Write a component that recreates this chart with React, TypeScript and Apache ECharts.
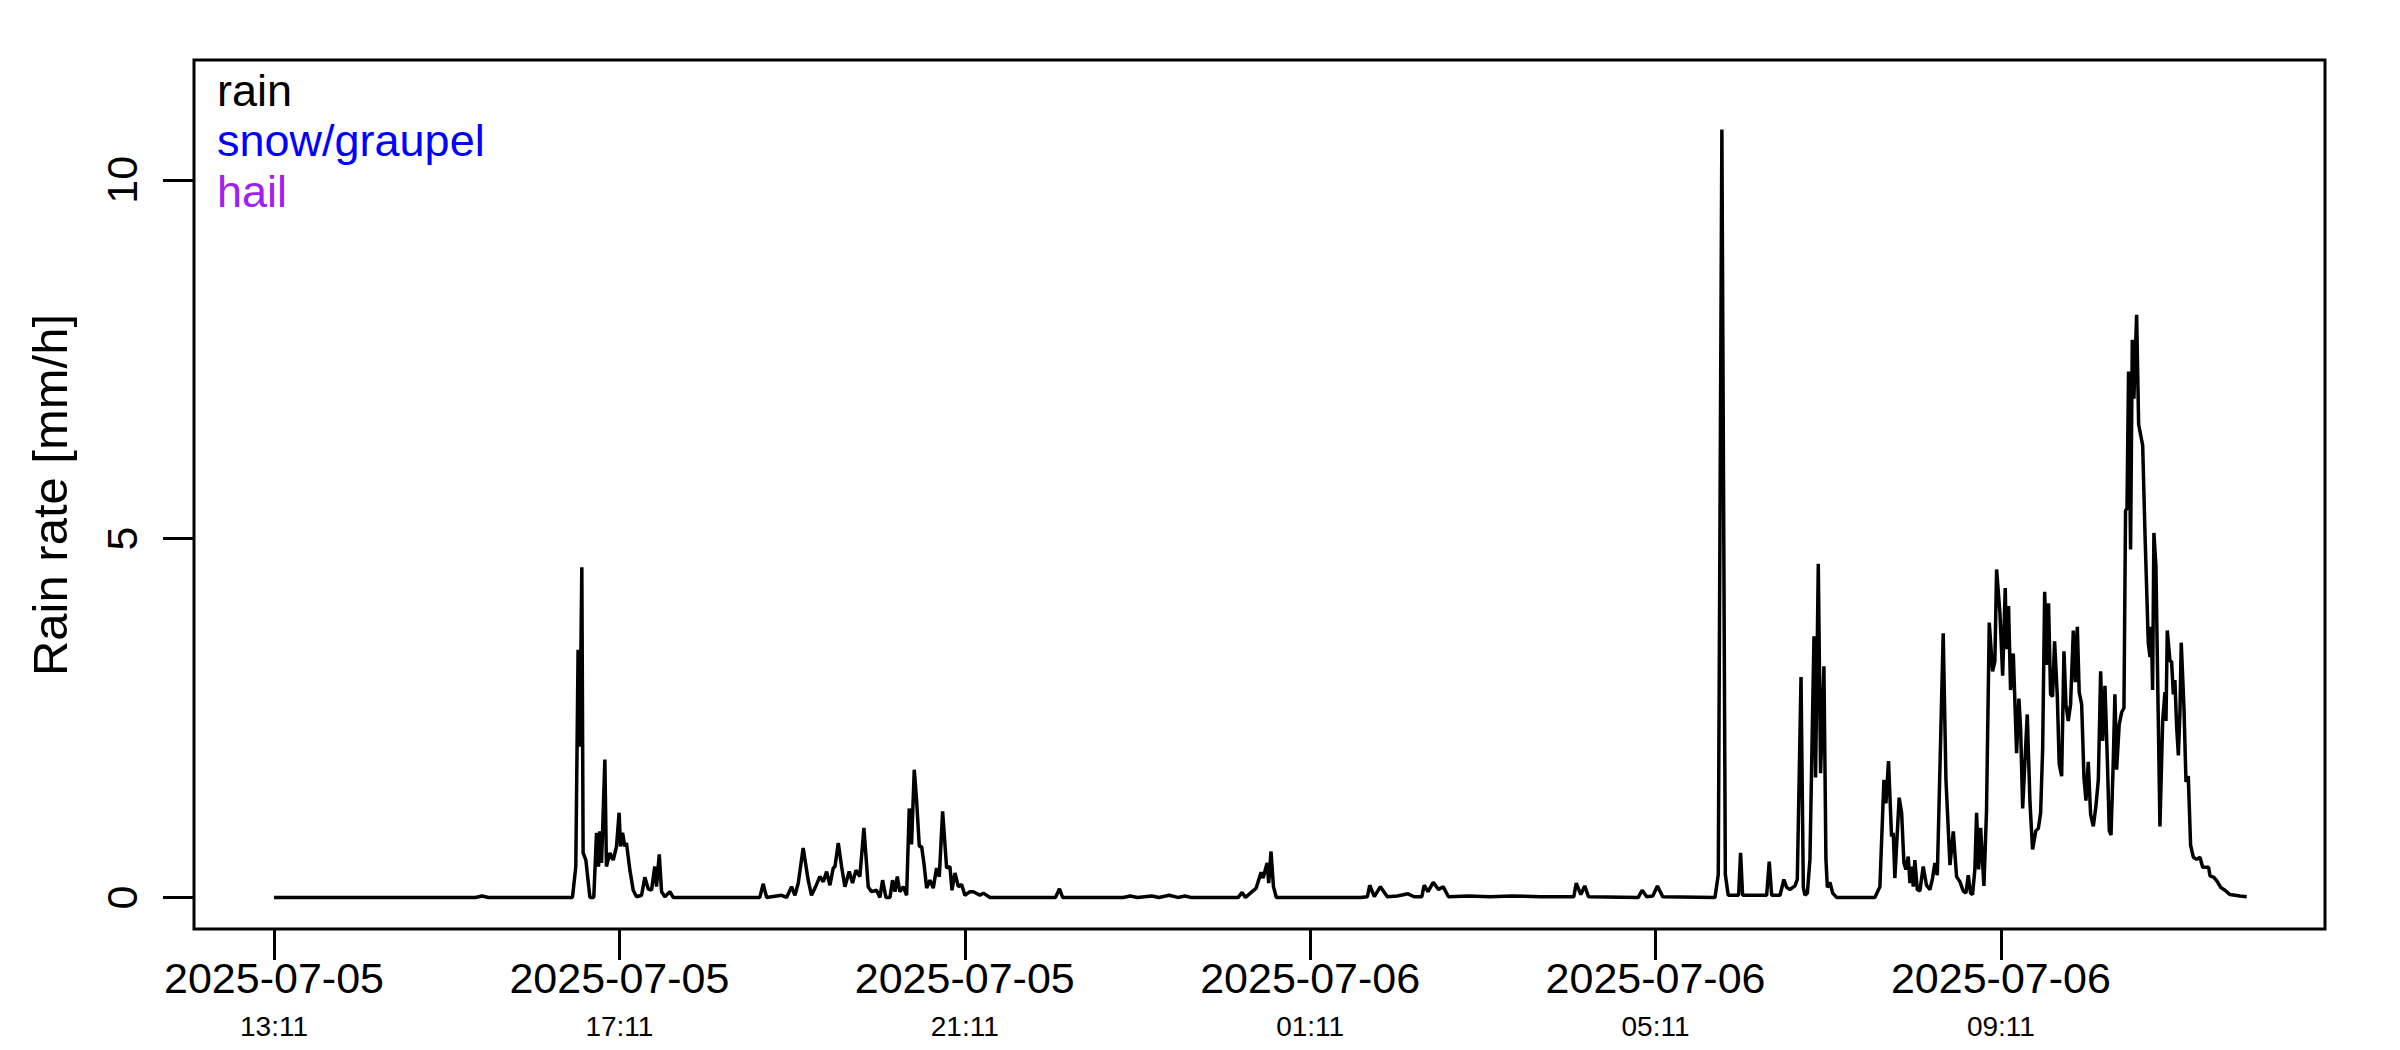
import React, { useEffect, useRef } from 'react';
import * as echarts from 'echarts';

// x values: minutes after 2025-07-05 13:11
const tickMinutes = [0, 240, 480, 720, 960, 1200];
const tickDates = ['2025-07-05', '2025-07-05', '2025-07-05', '2025-07-06', '2025-07-06', '2025-07-06'];
const tickTimes = ['13:11', '17:11', '21:11', '01:11', '05:11', '09:11'];
const yTicks = [0, 5, 10];
const legendLabels = ['rain', 'snow/graupel', 'hail'];
const legendColors = ['#000000', '#0000FF', '#A020F0'];

const quietStart: [number, number][] = [
  [0, 0], [140, 0], [144.5, 0.02], [149, 0],
];
const storm1: [number, number][] = [
  [207.4, 0], [209.7, 0.43], [211.3, 3.45], [212.5, 2.1], [213.9, 4.6], [214.8, 0.62], [216.7, 0.52],
  [219.5, 0], [222.2, 0], [224.1, 0.9], [225.5, 0.43], [226.4, 0.92], [227.6, 0.48], [229.9, 1.92],
  [231, 0.43], [233.4, 0.62], [235.7, 0.52], [238, 0.71], [239.8, 1.18], [240.8, 0.71], [242.2, 0.9],
  [243.8, 0.71], [244.9, 0.76], [247.3, 0.38], [249.6, 0.1], [251.9, 0.01], [255.4, 0.03], [257.7, 0.28],
  [260, 0.12], [262.3, 0.1], [264.6, 0.43], [265.8, 0.15], [267.7, 0.6], [269.3, 0.08], [271.6, 0.01],
  [275.1, 0.08], [277.4, 0],
];
const storm2: [number, number][] = [
  [337.6, 0], [339.9, 0.19], [342.3, 0], [352.7, 0.03], [356.2, 0], [359.6, 0.15], [362, 0.03],
  [364.3, 0.2], [367.7, 0.69], [371.2, 0.24], [373.5, 0.03], [375.9, 0.13], [379.3, 0.29], [381.7, 0.22],
  [384, 0.36], [386.3, 0.17], [388.6, 0.41], [389.8, 0.43], [392.1, 0.76], [394.4, 0.43], [396.7, 0.15],
  [399.7, 0.36], [402, 0.2], [404.4, 0.38], [407.1, 0.29], [409.9, 0.97], [412.9, 0.15], [415.2, 0.08],
  [418.7, 0.1], [421, 0], [422.9, 0.24], [425.2, 0], [428, 0], [429.8, 0.24], [431.5, 0.08], [433.1, 0.29],
  [434.9, 0.08], [437.3, 0.15], [439.6, 0.03], [441.4, 1.24], [443, 0.74], [444.9, 1.78], [446.5, 1.36],
  [448.4, 0.71], [450, 0.71], [451.6, 0.48], [453.5, 0.13], [455.8, 0.24], [458.1, 0.13], [460.4, 0.41],
  [462.3, 0.29], [464.6, 1.2], [467.4, 0.41], [469.7, 0.43], [471.1, 0.1], [473.2, 0.34], [475.5, 0.15],
  [477.8, 0.18], [480.1, 0.03], [483.6, 0.08], [485.9, 0.08], [490.5, 0.03], [492.9, 0.06], [497.5, 0],
];
const nightShowers: [number, number][] = [
  [543, 0], [545.8, 0.12], [548, 0],
  [590, 0], [595, 0.02], [600, 0], [610, 0.02], [615, 0], [622, 0.03], [628, 0], [633, 0.02], [637, 0],
  [670, 0], [672.7, 0.07], [675, 0], [682.5, 0.13], [685.9, 0.35], [687.3, 0.27], [690.1, 0.48],
  [691.2, 0.2], [692.8, 0.64], [694.5, 0.15], [696.5, 0],
  [755, 0], [759.8, 0.01], [761.4, 0.17], [764.6, 0.01], [768.8, 0.15], [773.6, 0.01], [780.5, 0.02],
  [788, 0.05], [792.2, 0.01], [797.6, 0.01], [799.2, 0.17], [801.9, 0.08], [805.5, 0.21], [809.2, 0.11],
  [812.4, 0.15], [816.1, 0.01], [830, 0.02], [845, 0.01], [860, 0.02], [880, 0.01], [893.3, 0.01],
  [903.2, 0.01], [904.9, 0.2], [908.1, 0.04], [910.8, 0.16], [913.4, 0.01],
  [948, 0], [950.7, 0.1], [953.9, 0.01], [958.1, 0.02], [961.3, 0.16], [965, 0.01],
];
const storm3: [number, number][] = [
  [1001.3, 0], [1003.6, 0.32], [1006.1, 10.7], [1008.5, 0.32], [1010.5, 0.03], [1017.7, 0.03],
  [1019.1, 0.62], [1020.5, 0.03], [1037.2, 0.03], [1039, 0.5], [1040.7, 0.03], [1046.5, 0.03],
  [1049.2, 0.25], [1051.1, 0.14], [1053.4, 0.11], [1056.9, 0.16], [1058.5, 0.25], [1061.1, 3.07],
  [1062.7, 0.14], [1063.8, 0.03], [1065.5, 0.06], [1067.3, 0.53], [1070.1, 3.64], [1071.2, 1.67],
  [1073.1, 4.65], [1074.7, 1.73], [1077, 3.22], [1078.4, 0.53], [1079.4, 0.14], [1081.2, 0.21],
  [1083.1, 0.06], [1085.8, 0],
];
const storm4: [number, number][] = [
  [1112.4, 0], [1115.9, 0.15], [1118.7, 1.64], [1120.1, 1.31], [1121.9, 1.9], [1124, 0.85], [1125.2, 0.9],
  [1126.3, 0.27], [1129.3, 1.39], [1131, 1.18], [1132.6, 0.48], [1134, 0.39], [1135.6, 0.57], [1136.8, 0.2],
  [1137.9, 0.43], [1139.1, 0.15], [1140.2, 0.52], [1141.9, 0.11], [1143.7, 0.09], [1146, 0.43],
  [1148.3, 0.17], [1150.7, 0.11], [1152.5, 0.27], [1154.1, 0.48], [1155.8, 0.31], [1157.6, 1.78],
  [1159.9, 3.68], [1161.8, 1.64], [1164.6, 0.45], [1166.9, 0.92], [1169.2, 0.29], [1171.5, 0.22],
  [1173.8, 0.09], [1175.7, 0.06], [1177.3, 0.31], [1178.9, 0.06], [1180.3, 0.04], [1181.9, 0.39],
  [1183.1, 1.18], [1184.5, 0.39], [1185.9, 0.97], [1188.2, 0.16],
];
const storm5: [number, number][] = [
  [1190, 1.21], [1191.9, 3.83], [1194.2, 3.15], [1195.8, 3.29], [1197, 4.57], [1199.3, 3.97], [1201.2, 3.09],
  [1203, 4.31], [1203.9, 3.46], [1205.3, 4.06], [1206.7, 2.89], [1208.6, 3.4], [1210.9, 2.01], [1212.5, 2.77],
  [1213.7, 2.35], [1215.1, 1.24], [1218.3, 2.55], [1220.2, 1.32], [1222, 0.67], [1224.3, 0.93], [1226, 0.96],
  [1227.6, 1.18], [1229, 2.07], [1230.4, 4.26], [1231.8, 3.24], [1233.1, 4.1], [1234.5, 2.83], [1235.9, 2.8],
  [1237.3, 3.57], [1239.2, 2.8], [1240.5, 1.86], [1242.2, 1.69], [1243.8, 3.43], [1245.2, 2.69],
  [1246.8, 2.46], [1248.4, 2.69], [1250.3, 3.72], [1251.7, 3.0], [1253.1, 3.77], [1254.4, 2.86],
  [1256.1, 2.69], [1257.7, 1.67], [1259.1, 1.35], [1260.7, 1.89], [1262.3, 1.16], [1264.2, 0.99],
  [1266, 1.27], [1267.7, 1.64], [1269.3, 3.15], [1270.7, 2.18], [1272.3, 2.95], [1273.9, 1.95],
  [1275.3, 0.93], [1276.5, 0.87], [1278.1, 1.92], [1279.2, 2.83], [1280.4, 1.78], [1282.2, 2.41],
  [1283.9, 2.58], [1285.5, 2.64], [1286.6, 5.39], [1287.6, 5.42], [1288.7, 7.33], [1290.1, 4.85],
  [1291.3, 7.77], [1292.4, 6.95], [1294.3, 8.12], [1295.7, 6.59], [1298.5, 6.3], [1300.1, 5.08],
  [1302.4, 3.55], [1303.6, 3.35], [1304.5, 3.77], [1305.4, 2.89], [1306.3, 5.08], [1307.7, 4.62],
  [1310.5, 0.99], [1312.4, 2.46], [1314, 2.86], [1314.7, 2.46], [1315.6, 3.72], [1317.5, 3.29],
  [1318.6, 3.29], [1319.8, 2.83], [1320.9, 3.03], [1322.1, 2.38], [1323.3, 1.98], [1324.4, 2.58],
  [1325.3, 3.55], [1327.2, 2.64], [1328.6, 1.61], [1330.2, 1.69], [1331.8, 0.73], [1333.7, 0.56],
  [1336, 0.53], [1338.3, 0.56], [1340.2, 0.42], [1344.3, 0.42], [1345.3, 0.3], [1348, 0.28],
  [1350.4, 0.22], [1352.7, 0.14], [1355.7, 0.1], [1359.2, 0.04], [1366.1, 0.02], [1370.8, 0.01],
];

const FONT = '"Liberation Sans", Arial, Helvetica, sans-serif';

export default function App() {
  const ref = useRef<HTMLDivElement>(null);
  useEffect(() => {
    document.body.style.margin = '0';
    if (!ref.current) return;
    const chart = echarts.init(ref.current, undefined, { renderer: 'svg' });
    const data = [
      ...quietStart, ...storm1, ...storm2, ...nightShowers, ...storm3, ...storm4, ...storm5,
    ];
    const legendGraphics = legendLabels.map((label, i) => ({
      type: 'text',
      x: 217,
      y: 90 + i * 50.5,
      style: {
        text: label,
        fill: legendColors[i],
        fontSize: 45,
        fontFamily: FONT,
        lineHeight: 48,
        verticalAlign: 'middle',
        textVerticalAlign: 'middle',
      },
    }));
    const option = {
      animation: false,
      backgroundColor: '#ffffff',
      grid: {
        left: 194,
        right: 75,
        top: 60,
        bottom: 121,
        show: true,
        borderColor: '#000',
        borderWidth: 3,
        backgroundColor: 'transparent',
      },
      xAxis: {
        type: 'value',
        min: -55.6,
        max: 1425.2,
        axisLine: { show: false, onZero: false },
        splitLine: { show: false },
        axisTick: {
          show: true,
          length: 31,
          customValues: tickMinutes,
          lineStyle: { color: '#000', width: 3 },
        },
        axisLabel: {
          customValues: tickMinutes,
          margin: 25,
          formatter: (v: number) => {
            const i = tickMinutes.indexOf(Math.round(v));
            if (i < 0) return '';
            return `{d|${tickDates[i]}}\n{t|${tickTimes[i]}}`;
          },
          rich: {
            d: { fontSize: 43, lineHeight: 48, fontFamily: FONT, color: '#000' },
            t: { fontSize: 28, lineHeight: 48, fontFamily: FONT, color: '#000' },
          },
        },
      },
      yAxis: {
        type: 'value',
        min: -0.44,
        max: 11.67,
        axisLine: { show: false, onZero: false },
        splitLine: { show: false },
        axisTick: {
          show: true,
          length: 31,
          customValues: yTicks,
          lineStyle: { color: '#000', width: 3 },
        },
        axisLabel: {
          customValues: yTicks,
          rotate: 90,
          margin: 51,
          fontSize: 43,
          fontFamily: FONT,
          color: '#000',
        },
      },
      graphic: [
        {
          type: 'text',
          x: 50,
          y: 495,
          rotation: Math.PI / 2,
          style: {
            text: 'Rain rate [mm/h]',
            fill: '#000',
            fontSize: 49,
            fontFamily: FONT,
            textAlign: 'center',
            textVerticalAlign: 'middle',
            align: 'center',
            verticalAlign: 'middle',
          },
        },
        ...legendGraphics,
      ],
      series: [
        {
          name: 'rain',
          type: 'line',
          data,
          showSymbol: false,
          symbol: 'none',
          lineStyle: { color: '#000', width: 3.5 },
          itemStyle: { color: '#000' },
          silent: true,
        },
      ],
    };
    chart.setOption(option as any);
    return () => chart.dispose();
  }, []);
  return (
    <div
      ref={ref}
      style={{ position: 'absolute', left: 0, top: 0, width: 2400, height: 1050, background: '#fff' }}
    />
  );
}
